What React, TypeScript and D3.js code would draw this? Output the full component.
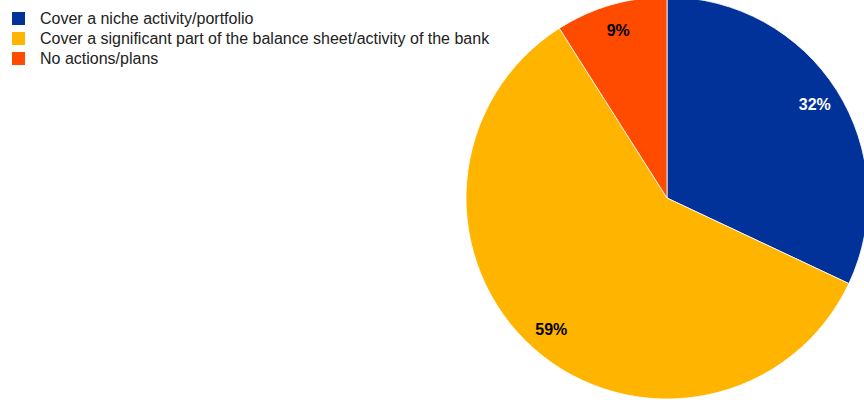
import React from "react";
import * as d3 from "d3";

const categories = [
  "Cover a niche activity/portfolio",
  "Cover a significant part of the balance sheet/activity of the bank",
  "No actions/plans",
];
const values = [32, 59, 9];
const colors = ["#003299", "#FFB400", "#FF4B00"];
const labelColors = ["#ffffff", "#000000", "#000000"];

const W = 864;
const H = 400;
const cx = 667;
const cy = 198;
const R = 201;
const labelR = 175;

export default function App() {
  const data = categories.map((c, i) => ({ c, v: values[i], i }));
  const pie = d3.pie<any>().value((d) => d.v).sort(null);
  const arcs = pie(data);
  const arc = d3.arc<any>().innerRadius(0).outerRadius(R);
  const labelArc = d3.arc<any>().innerRadius(labelR).outerRadius(labelR);
  const font = "'Liberation Sans', Arial, sans-serif";
  return (
    <svg
      width={W}
      height={H}
      style={{ position: "absolute", left: 0, top: 0, display: "block", background: "#fff" }}
      fontFamily={font}
    >
      <g transform={`translate(${cx},${cy})`}>
        {arcs.map((a, i) => (
          <path key={i} d={arc(a) as string} fill={colors[i]} stroke="#fff" strokeWidth={0.8} />
        ))}
        {arcs.map((a, i) => {
          const [x, y] = labelArc.centroid(a);
          return (
            <text
              key={"l" + i}
              x={x}
              y={y + 6}
              textAnchor="middle"
              fontSize={16}
              fontWeight="bold"
              fill={labelColors[i]}
            >
              {`${values[i]}%`}
            </text>
          );
        })}
      </g>
      <g>
        {categories.map((c, i) => (
          <g key={c} transform={`translate(12,${12 + i * 20})`}>
            <rect width={13} height={13} fill={colors[i]} />
            <text x={28} y={12} fontSize={16} fill="#222">
              {c}
            </text>
          </g>
        ))}
      </g>
    </svg>
  );
}
